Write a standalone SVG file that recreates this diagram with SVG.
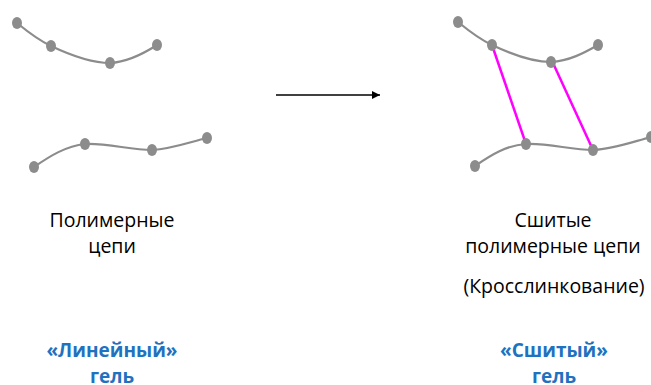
<svg xmlns="http://www.w3.org/2000/svg" width="651" height="385" viewBox="0 0 651 385">
<defs>
<style>
.chain{fill:none;stroke:#8c8c8c;stroke-width:2.2}
.dot{fill:#8c8c8c}
.link{stroke:#ff00ff;stroke-width:2.5}
.lbl{font-family:"Open Sans","Liberation Sans",sans-serif;font-size:19.5px;fill:#000;text-anchor:middle}
.gel{font-family:"Open Sans","Liberation Sans",sans-serif;font-size:19px;font-weight:bold;fill:#1f72c0;text-anchor:middle}
</style>
<marker id="ah" viewBox="0 0 10 10" refX="10" refY="5" markerWidth="8" markerHeight="8" markerUnits="userSpaceOnUse" orient="auto">
<path d="M0,0L10,5L0,10z" fill="#000"/>
</marker>
</defs>
<g id="left-chains">
<path class="chain" d="M17,23 C28,32 38,40 51,46 C70,55 90,63 110,63 C128,62 143,54 157,45"/>
<path class="chain" d="M34,167 C50,156 66,146 85,144 C108,143 130,150 152,150 C172,149 190,142 207,138"/>
<ellipse class="dot" cx="17" cy="23" rx="5" ry="6"/>
<ellipse class="dot" cx="51" cy="46" rx="5" ry="6"/>
<ellipse class="dot" cx="110" cy="63" rx="5" ry="6"/>
<ellipse class="dot" cx="157" cy="45" rx="5" ry="6"/>
<ellipse class="dot" cx="34" cy="167" rx="5" ry="6"/>
<ellipse class="dot" cx="85" cy="144" rx="5" ry="6"/>
<ellipse class="dot" cx="152" cy="150" rx="5" ry="6"/>
<ellipse class="dot" cx="207" cy="138" rx="5" ry="6"/>
</g>
<g id="connectors">
<line x1="276" y1="95" x2="380" y2="95" stroke="#000" stroke-width="1.5" marker-end="url(#ah)"/>
</g>
<g id="right-chains">
<path class="chain" d="M458,22 C469,31 479,39 492,45 C511,54 531,62 551,62 C569,61 584,53 598,45"/>
<path class="chain" d="M475,166 C491,155 507,145 526,144 C549,143 571,150 593,150 C613,149 632,142 651,137"/>
<line class="link" x1="492" y1="45" x2="526" y2="144"/>
<line class="link" x1="553" y1="63" x2="593" y2="150"/>
<ellipse class="dot" cx="458" cy="22" rx="5" ry="6"/>
<ellipse class="dot" cx="492" cy="45" rx="5" ry="6"/>
<ellipse class="dot" cx="551" cy="62" rx="5" ry="6"/>
<ellipse class="dot" cx="598" cy="45" rx="5" ry="6"/>
<ellipse class="dot" cx="475" cy="166" rx="5" ry="6"/>
<ellipse class="dot" cx="526" cy="144" rx="5" ry="6"/>
<ellipse class="dot" cx="593" cy="150" rx="5" ry="6"/>
<ellipse class="dot" cx="651" cy="137" rx="5" ry="6"/>
</g>
<g id="left-labels">
<text class="lbl" x="112" y="227">Полимерные</text>
<text class="lbl" x="112" y="253">цепи</text>
<text class="gel" x="112" y="357">«Линейный»</text>
<text class="gel" x="112" y="383">гель</text>
</g>
<g id="right-labels">
<text class="lbl" x="553" y="227">Сшитые</text>
<text class="lbl" x="553" y="253">полимерные цепи</text>
<text class="lbl" x="554" y="293">(Кросслинкование)</text>
<text class="gel" x="554" y="357">«Сшитый»</text>
<text class="gel" x="554" y="383">гель</text>
</g>
</svg>
